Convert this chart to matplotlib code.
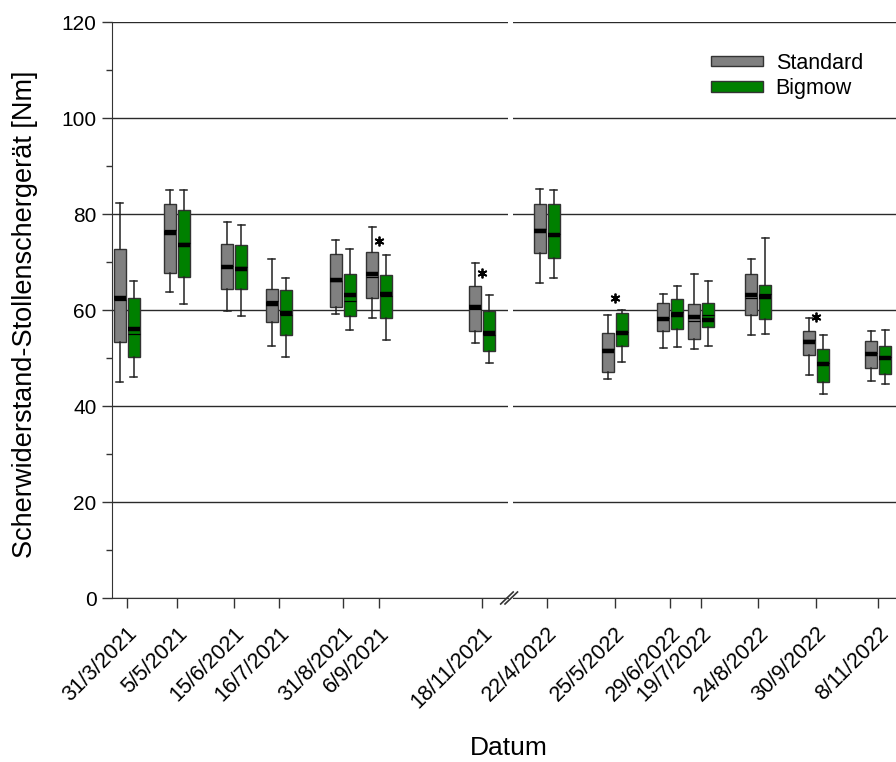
import matplotlib
matplotlib.use("Agg")
import matplotlib.pyplot as plt
from matplotlib.patches import Patch
from matplotlib.lines import Line2D
from matplotlib.ticker import MultipleLocator

plt.rcParams['font.family'] = ['Liberation Sans', 'DejaVu Sans']

# ---- data ----
dates_2021 = ["31/3/2021", "5/5/2021", "15/6/2021", "16/7/2021", "31/8/2021", "6/9/2021", "18/11/2021"]
dates_2022 = ["22/4/2022", "25/5/2022", "29/6/2022", "19/7/2022", "24/8/2022", "30/9/2022", "8/11/2022"]

std_whishi = [82.2, 85.0, 78.4, 70.6, 74.5, 77.2, 69.7, 85.2, 58.9, 63.3, 67.5, 70.6, 58.3, 55.6]
std_q3     = [72.7, 82.1, 73.8, 64.4, 71.6, 72.1, 65.1, 82.1, 55.2, 61.5, 61.3, 67.4, 55.6, 53.5]
std_med    = [62.6, 76.0, 69.0, 61.3, 66.2, 67.6, 60.6, 76.5, 51.5, 58.1, 58.6, 63.1, 53.4, 50.8]
std_mean   = [62.0, 76.7, 69.2, 61.8, 66.0, 66.8, 60.2, 76.9, 51.9, 58.4, 57.8, 62.5, 53.7, 51.1]
std_q1     = [53.3, 67.8, 64.4, 57.5, 60.6, 62.6, 55.6, 71.9, 47.0, 55.7, 54.0, 59.0, 50.6, 47.9]
std_whislo = [45.0, 63.8, 59.8, 52.4, 59.1, 58.4, 53.1, 65.6, 45.7, 52.0, 51.9, 54.7, 46.5, 45.2]

big_whishi = [66.0, 85.0, 77.8, 66.6, 72.8, 71.4, 63.1, 85.0, 60.1, 65.0, 66.1, 74.9, 54.8, 55.8]
big_q3     = [62.4, 80.8, 73.6, 64.2, 67.6, 67.2, 59.7, 82.1, 59.3, 62.2, 61.5, 65.3, 51.9, 52.6]
big_med    = [56.0, 73.6, 68.5, 59.3, 63.1, 63.3, 55.2, 75.6, 55.2, 58.9, 57.9, 62.8, 48.8, 49.9]
big_mean   = [55.1, 73.9, 69.0, 59.0, 61.9, 63.0, 54.7, 75.9, 55.5, 59.6, 59.0, 63.4, 49.0, 50.3]
big_q1     = [50.3, 66.9, 64.4, 54.7, 58.8, 58.4, 51.4, 70.9, 52.6, 56.1, 56.5, 58.1, 45.1, 46.7]
big_whislo = [46.1, 61.2, 58.8, 50.2, 55.8, 53.7, 49.0, 66.6, 49.1, 52.2, 52.6, 55.1, 42.6, 44.6]

sig_index = [5, 6, 8, 12]
sig_y     = [74.4, 67.7, 62.5, 58.6]

# ---- layout (irregular date slots, figure-pixel based) ----
slot_pos = [126.7, 176.7, 234.0, 278.7, 342.5, 379.0, 482.0,
            546.7, 614.7, 670.0, 701.3, 758.0, 816.0, 878.0]
offset = 7.0
box_w = 12.0

W, H = 896, 762
def fx(px): return px / W
def fy(py): return 1 - py / H

fig = plt.figure(figsize=(W / 100, H / 100), dpi=100)
top_px, bot_px = 22, 598
ax1 = fig.add_axes([fx(112), fy(bot_px), fx(507.7) - fx(112), fy(top_px) - fy(bot_px)])
ax2 = fig.add_axes([fx(512.7), fy(bot_px), fx(896) - fx(512.7), fy(top_px) - fy(bot_px)])
ax1.set_xlim(112, 507.7)
ax2.set_xlim(512.7, 896)

gray = '#808080'
green = '#008000'
edge = '#333333'

def stats(i, whislo, q1, med, mean, q3, whishi):
    return dict(whislo=whislo[i], q1=q1[i], med=med[i], mean=mean[i], q3=q3[i], whishi=whishi[i], fliers=[])

for ax, idx in ((ax1, range(0, 7)), (ax2, range(7, 14))):
    idx = list(idx)
    for series, col, sign in (((std_whislo, std_q1, std_med, std_mean, std_q3, std_whishi), gray, -1),
                              ((big_whislo, big_q1, big_med, big_mean, big_q3, big_whishi), green, 1)):
        st = [stats(i, *series) for i in idx]
        pos = [slot_pos[i] + sign * offset for i in idx]
        ax.bxp(st, positions=pos, widths=box_w, capwidths=7, patch_artist=True,
               showfliers=False, showmeans=True, meanline=True,
               boxprops=dict(facecolor=col, edgecolor=edge, linewidth=1.0),
               medianprops=dict(color='black', linewidth=3.2, solid_capstyle='butt'),
               meanprops=dict(color='black', linewidth=0.9, linestyle='-'),
               whiskerprops=dict(color='#222222', linewidth=1.1),
               capprops=dict(color='#222222', linewidth=1.1),
               manage_ticks=False, zorder=3)
    for k, yv in zip(sig_index, sig_y):
        if k in idx:
            ax.plot([slot_pos[k]], [yv], linestyle='none', marker=(6, 2, 0),
                    markersize=7, markeredgewidth=1.3, color='black', zorder=4)

for ax in (ax1, ax2):
    ax.set_ylim(0, 120)
    ax.set_yticks(range(0, 121, 20))
    ax.yaxis.set_minor_locator(MultipleLocator(10))
    ax.grid(axis='y', which='major', color='#2a2a2a', linewidth=1.0, zorder=0)
    ax.set_axisbelow(True)
    ax.spines['top'].set_visible(False)
    ax.spines['right'].set_visible(False)
    ax.spines['bottom'].set_color('#333333')
    ax.tick_params(axis='x', direction='out', length=7, width=1, color='#333333',
                   labelsize=15.5, pad=11)
    ax.set_facecolor('none')

ax1.spines['left'].set_color('#333333')
ax1.tick_params(axis='y', which='major', direction='out', length=7, width=1,
                color='#333333', labelsize=15, pad=4)
ax1.tick_params(axis='y', which='minor', direction='out', length=4, width=1, color='#333333')
ax2.spines['left'].set_visible(False)
ax2.tick_params(axis='y', which='both', left=False, labelleft=False)

ax1.set_xticks(slot_pos[:7])
ax1.set_xticklabels(dates_2021, rotation=45, ha='right', rotation_mode='anchor')
ax2.set_xticks(slot_pos[7:])
ax2.set_xticklabels(dates_2022, rotation=45, ha='right', rotation_mode='anchor')

# break marks
for x0 in (500.7, 505.0):
    fig.add_artist(Line2D([fx(x0), fx(x0 + 12.5)], [fy(604), fy(592)],
                          transform=fig.transFigure, color='#333333', linewidth=1.2))

fig.text(fx(25), fy(314), 'Scherwiderstand-Stollenschergerät [Nm]', rotation=90,
         ha='center', va='center', fontsize=19.5)
fig.text(fx(509), fy(755), 'Datum', ha='center', va='baseline', fontsize=19)

handles = [Patch(facecolor=gray, edgecolor=edge, label='Standard'),
           Patch(facecolor=green, edgecolor=edge, label='Bigmow')]
fig.legend(handles=handles, loc='upper left', bbox_to_anchor=(fx(711), fy(53)),
           frameon=False, fontsize=15.5, handlelength=2.4, handleheight=0.35,
           handletextpad=0.6, labelspacing=0.2, borderpad=0, borderaxespad=0)

fig.savefig('out.png', dpi=100)
